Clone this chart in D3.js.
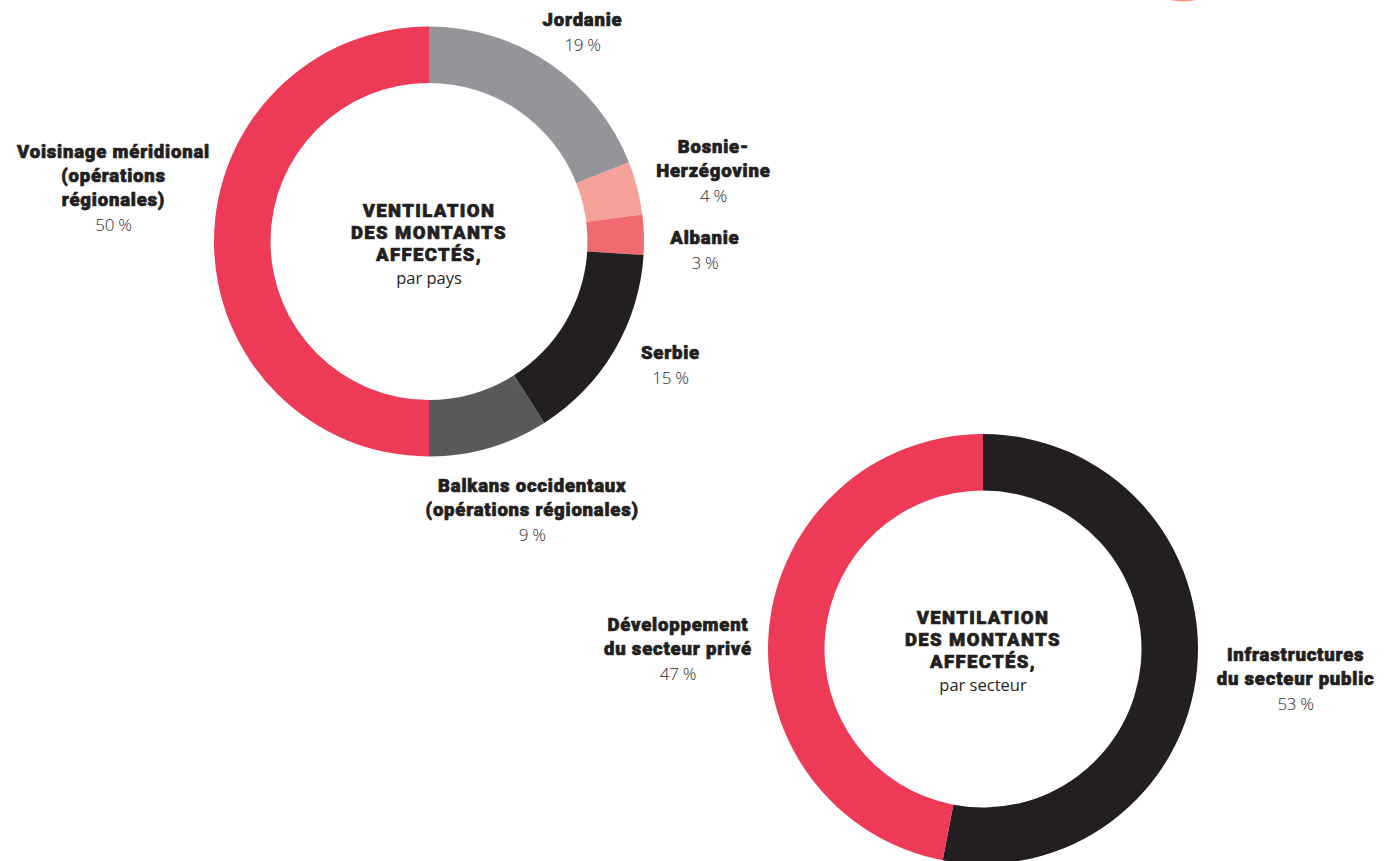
<!DOCTYPE html>
<html>
<head>
<meta charset="utf-8">
<script src="https://cdn.jsdelivr.net/npm/d3@7"></script>
<style>
  body { margin: 0; background: #fff; }
  .lbl { font-family: Roboto, "Open Sans", sans-serif; font-weight: 900; fill: #231f20;
         stroke: #231f20; stroke-width: 0.7px; stroke-linejoin: round; }
  .pct { font-family: "Open Sans", sans-serif; font-weight: 300; fill: #2b2b2b; }
  .sub { font-family: "Open Sans", sans-serif; font-weight: 400; fill: #231f20; }
</style>
</head>
<body>
<svg id="chart"></svg>
<script>
(function () {
    const width = 1389;
    const height = 861;

    // by country
    const countryLabels = [
        ["Jordanie"],
        ["Bosnie-", "Herzégovine"],
        ["Albanie"],
        ["Serbie"],
        ["Balkans occidentaux", "(opérations régionales)"],
        ["Voisinage méridional", "(opérations", "régionales)"]
    ];
    const countryValues = [19, 4, 3, 15, 9, 50];
    const countryColors = ["#939598", "#f4a19a", "#f06b6f", "#231f20", "#58595b", "#ed3b57"];

    // by sector
    const sectorLabels = [
        ["Infrastructures", "du secteur public"],
        ["Développement", "du secteur privé"]
    ];
    const sectorValues = [53, 47];
    const sectorColors = ["#231f20", "#ed3b57"];

    const centerTitle = ["VENTILATION", "DES MONTANTS", "AFFECTÉS,"];

    const outerR = 215;
    const innerR = 158.5;
    const lineH = 24;

    const svg = d3.select("#chart")
        .attr("width", width)
        .attr("height", height);

    // small cut-off ornament at top right
    svg.append("circle")
        .attr("cx", 1183).attr("cy", -58.5).attr("r", 60)
        .attr("fill", "#f4907f");

    const pie = d3.pie().sort(null).value(d => d);
    const arc = d3.arc().innerRadius(innerR).outerRadius(outerR);

    // label placement: [angle offset in degrees, radius] around the slice middle
    function drawDonut(cx, cy, values, colors, labels, subtitle, labelPos) {
        const g = svg.append("g").attr("transform", `translate(${cx},${cy})`);
        const arcs = pie(values);

        g.selectAll("path.slice")
            .data(arcs)
            .enter()
            .append("path")
            .attr("class", "slice")
            .attr("d", arc)
            .attr("fill", (d, i) => colors[i]);

        arcs.forEach((d, i) => {
            const mid = (d.startAngle + d.endAngle) / 2 + labelPos[i][0] * Math.PI / 180;
            const r = labelPos[i][1];
            const x = Math.sin(mid) * r;
            const y = -Math.cos(mid) * r;
            const lines = labels[i];
            const n = lines.length + 1;
            const top = y - (n - 1) * lineH / 2;

            const t = g.append("text")
                .attr("text-anchor", "middle")
                .attr("dominant-baseline", "central");
            lines.forEach((s, k) => {
                t.append("tspan")
                    .attr("class", "lbl")
                    .attr("x", x)
                    .attr("y", top + k * lineH)
                    .attr("font-size", 18.5)
                    .attr("letter-spacing", 0.8)
                    .text(s);
            });
            t.append("tspan")
                .attr("class", "pct")
                .attr("x", x)
                .attr("y", top + lines.length * lineH)
                .attr("font-size", 17)
                .attr("letter-spacing", -0.3)
                .text(values[i] + " %");
        });

        // center text
        const ct = g.append("text")
            .attr("text-anchor", "middle")
            .attr("dominant-baseline", "central");
        centerTitle.forEach((s, k) => {
            ct.append("tspan")
                .attr("class", "lbl")
                .attr("x", 0)
                .attr("y", -31 + k * 22)
                .attr("font-size", 18.5)
                .attr("letter-spacing", 1.4)
                .text(s);
        });
        ct.append("tspan")
            .attr("class", "sub")
            .attr("x", 0)
            .attr("y", -31 + 3 * 22)
            .attr("font-size", 16.5)
            .text(subtitle);
    }

    drawDonut(429, 241.5, countryValues, countryColors, countryLabels, "par pays",
        [[2, 260], [0.5, 293], [3.6, 276], [-3.6, 271], [-4.8, 288], [9.6, 320]]);

    drawDonut(983, 649, sectorValues, sectorColors, sectorLabels, "par secteur",
        [[0, 314], [-5.4, 305]]);
})();
</script>
</body>
</html>
